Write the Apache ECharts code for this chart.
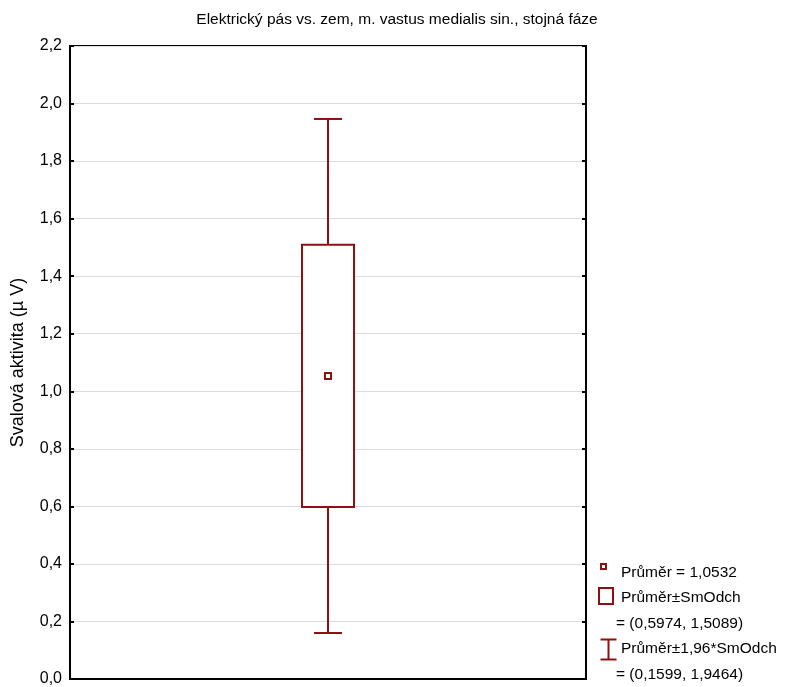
<!DOCTYPE html>
<html>
<head>
<meta charset="utf-8">
<script src="https://cdn.jsdelivr.net/npm/echarts@6/dist/echarts.min.js"></script>
<style>
  html, body { margin: 0; padding: 0; background: #fff; }
  #chart { width: 785px; height: 687px; }
</style>
</head>
<body>
<div id="chart"></div>
<script>
// Muscle activity summary: mean, mean ± SD box, mean ± 1.96*SD whiskers
const categories = [''];
const means = [1.0532];
const sdLow = [0.5974];
const sdHigh = [1.5089];
const ciLow = [0.1599];
const ciHigh = [1.9464];
const yMin = 0;
const yMax = 2.2;
const yStep = 0.2;

const RED = '#8e1010';
const fmt = (v, d) => v.toFixed(d).replace('.', ',');

const seriesData = categories.map((c, i) => [i, means[i], sdLow[i], sdHigh[i], ciLow[i], ciHigh[i]]);

const chart = echarts.init(document.getElementById('chart'));

function renderBox(params, api) {
  const idx = api.value(0);
  const pMean = api.coord([idx, api.value(1)]);
  const ySdLo = api.coord([idx, api.value(2)])[1];
  const ySdHi = api.coord([idx, api.value(3)])[1];
  const yCiLo = api.coord([idx, api.value(4)])[1];
  const yCiHi = api.coord([idx, api.value(5)])[1];
  const x = pMean[0];
  const boxHalf = 26, capHalf = 14;
  const st = { stroke: RED, lineWidth: 2, fill: null };
  return {
    type: 'group',
    children: [
      { type: 'line', shape: { x1: x, y1: ySdHi, x2: x, y2: yCiHi }, style: st },
      { type: 'line', shape: { x1: x - capHalf, y1: yCiHi, x2: x + capHalf, y2: yCiHi }, style: st },
      { type: 'line', shape: { x1: x, y1: ySdLo, x2: x, y2: yCiLo }, style: st },
      { type: 'line', shape: { x1: x - capHalf, y1: yCiLo, x2: x + capHalf, y2: yCiLo }, style: st },
      { type: 'rect', shape: { x: x - boxHalf, y: ySdHi, width: boxHalf * 2, height: ySdLo - ySdHi },
        style: { stroke: RED, lineWidth: 2, fill: '#fff' } },
      { type: 'rect', shape: { x: x - 3, y: pMean[1] - 3, width: 6, height: 6 },
        style: { stroke: RED, lineWidth: 2, fill: '#fff' } }
    ]
  };
}

const legendFont = '15.5px "Liberation Sans", Arial, sans-serif';
const legendText = (x, y, t) => ({
  type: 'text', left: x, top: y,
  style: { text: t, font: legendFont, fill: '#000' }
});

const option = {
  animation: false,
  backgroundColor: '#fff',
  title: {
    text: 'Elektrický pás vs. zem, m. vastus medialis sin., stojná fáze',
    left: 392, top: 7, textAlign: 'center',
    textStyle: { fontFamily: '"Liberation Sans", Arial, sans-serif', fontSize: 15.5, fontWeight: 'normal', color: '#000' }
  },
  grid: { left: 70, right: 199, top: 46, bottom: 8, show: true, borderColor: '#000', borderWidth: 2, backgroundColor: 'transparent' },
  xAxis: {
    type: 'category', data: categories,
    axisLine: { show: true, lineStyle: { color: '#000', width: 2 } },
    axisTick: { show: false }, axisLabel: { show: false }, splitLine: { show: false }
  },
  yAxis: [
    {
      type: 'value', min: yMin, max: yMax, interval: yStep,
      name: 'Svalová aktivita (µ V)', nameLocation: 'middle', nameGap: 43,
      nameTextStyle: { fontFamily: '"Liberation Sans", Arial, sans-serif', fontSize: 18, color: '#000' },
      axisLine: { show: true, lineStyle: { color: '#000', width: 2 } },
      axisTick: { show: true, inside: true, length: 4, lineStyle: { color: '#000', width: 2 } },
      axisLabel: { formatter: v => fmt(v, 1), fontFamily: '"Liberation Sans", Arial, sans-serif', fontSize: 16, color: '#000', margin: 8 },
      splitLine: { show: true, lineStyle: { color: '#dcdcdc', width: 1 } }
    },
    {
      type: 'value', min: yMin, max: yMax, interval: yStep, position: 'right',
      axisLine: { show: true, lineStyle: { color: '#000', width: 2 } },
      axisTick: { show: true, inside: true, length: 4, lineStyle: { color: '#000', width: 2 } },
      axisLabel: { show: false }, splitLine: { show: false }
    }
  ],
  series: [{
    type: 'custom', renderItem: renderBox, data: seriesData,
    encode: { x: 0, y: [1, 2, 3, 4, 5] }, z: 5
  }],
  graphic: [
    { type: 'rect', left: 600, top: 563, shape: { width: 5, height: 5 }, style: { stroke: RED, lineWidth: 2, fill: '#fff' } },
    legendText(621, 565, 'Průměr = ' + fmt(means[0], 4)),
    { type: 'rect', left: 598, top: 587, shape: { width: 14, height: 16 }, style: { stroke: RED, lineWidth: 2, fill: '#fff' } },
    legendText(621, 590, 'Průměr±SmOdch'),
    legendText(616, 616, '= (' + fmt(sdLow[0], 4) + ', ' + fmt(sdHigh[0], 4) + ')'),
    { type: 'group', left: 598, top: 637, children: [
      { type: 'line', shape: { x1: 0, y1: 0, x2: 16, y2: 0 }, style: { stroke: RED, lineWidth: 2 } },
      { type: 'line', shape: { x1: 8, y1: 0, x2: 8, y2: 20 }, style: { stroke: RED, lineWidth: 2 } },
      { type: 'line', shape: { x1: 0, y1: 20, x2: 16, y2: 20 }, style: { stroke: RED, lineWidth: 2 } }
    ] },
    legendText(621, 641, 'Průměr±1,96*SmOdch'),
    legendText(616, 667, '= (' + fmt(ciLow[0], 4) + ', ' + fmt(ciHigh[0], 4) + ')')
  ]
};

chart.setOption(option);
</script>
</body>
</html>
